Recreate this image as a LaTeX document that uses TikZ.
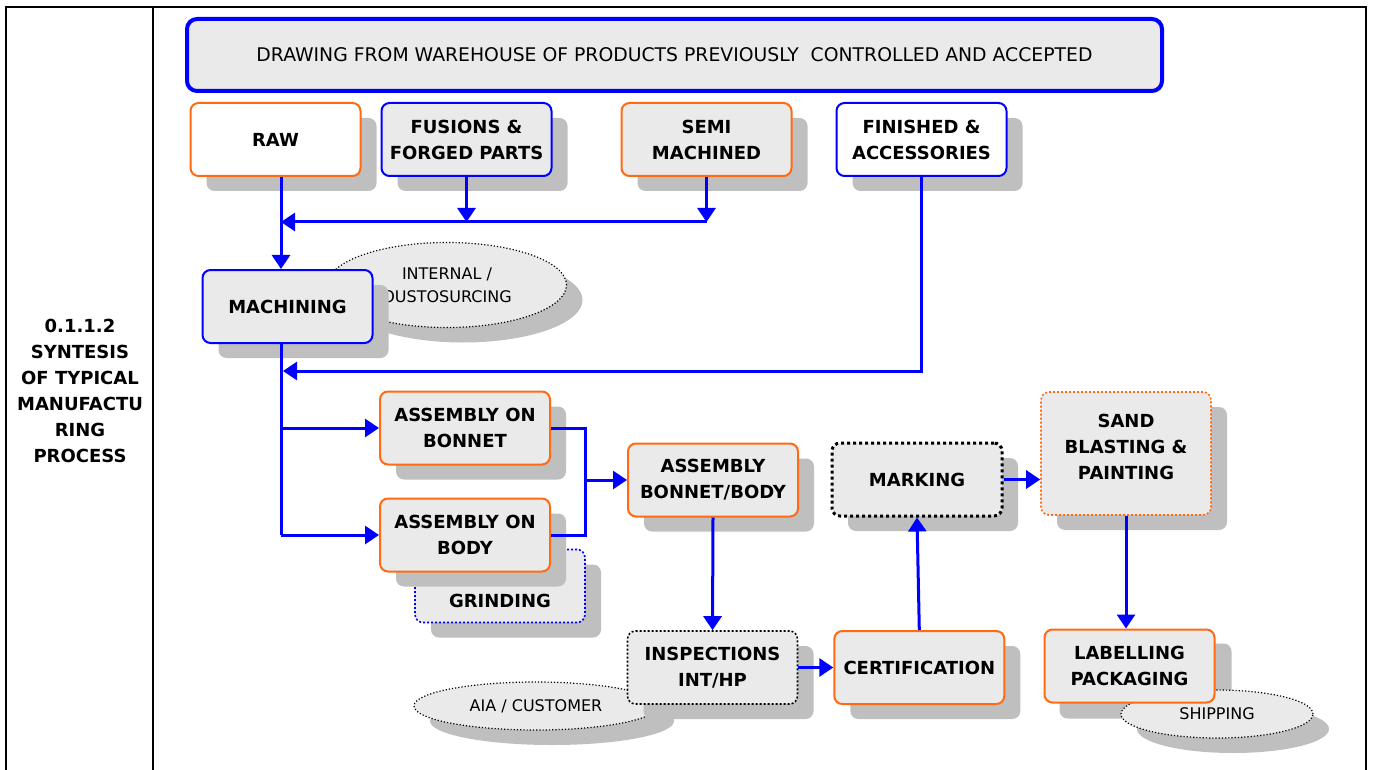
\documentclass[tikz,border=0pt]{standalone}
\usepackage{fontspec}
\setmainfont{DejaVu Sans}
\usepackage{tikz}
\usetikzlibrary{arrows.meta,positioning,shapes.geometric,shadows}
\definecolor{boxgray}{HTML}{EAEAEA}
\definecolor{shgray}{HTML}{BFBFBF}
\definecolor{orng}{HTML}{FF6A13}
\pgfdeclarelayer{shadowlayer}
\pgfsetlayers{shadowlayer,main}

\begin{document}
\begin{tikzpicture}[
    x=0.5pt, y=-0.5pt,
    shd/.style={drop shadow={shadow xshift=8pt, shadow yshift=-7.5pt,
                fill=shgray, opacity=1}},
    pbox/.style={rectangle, draw, rounded corners=4pt, line width=1pt,
                fill=boxgray, minimum width=85pt, minimum height=36.5pt,
                align=center, inner sep=2pt,
                font=\bfseries\fontsize{9}{13}\selectfont, shd},
    obox/.style={pbox, draw=orng},
    bbox/.style={pbox, draw=blue},
    note/.style={ellipse, draw, densely dotted, line width=0.6pt,
                fill=boxgray, inner sep=0pt, align=center,
                font=\fontsize{8}{11.5}\selectfont, shd},
    arr/.style={-{Triangle[length=7pt,width=9pt]}, blue, line width=1.5pt},
    link/.style={blue, line width=1.5pt}
]
\useasboundingbox (0,0) rectangle (1375,770);

% Table frame
\draw[line width=1.2pt] (6,770) |- (1366,7) -- (1366,770);
\draw[line width=1.2pt] (153,7) -- (153,770);
\node[font=\bfseries\fontsize{9}{13}\selectfont, align=center] (title) at (80,391) {
  0.1.1.2\\SYNTESIS\\OF TYPICAL\\MANUFACTU\\RING\\PROCESS
};

% Notes behind the boxes
\node[note, minimum width=119.5pt, minimum height=42.5pt] (intx) at (447,285) {INTERNAL /\\OUSTOSURCING};
\node[note, minimum width=122pt, minimum height=24pt] (aia) at (536,706) {AIA / CUSTOMER};
\node[note, minimum width=96pt, minimum height=24pt] (ship) at (1217,714) {SHIPPING};

% Warehouse
\node[rectangle, draw=blue, line width=2pt, rounded corners=5pt, fill=boxgray,
      minimum width=487.5pt, minimum height=36pt,
      font=\fontsize{9.4}{11}\selectfont] (wh) at (674.5,55) {
  DRAWING FROM WAREHOUSE OF PRODUCTS PREVIOUSLY\ \ CONTROLLED AND ACCEPTED
};

% Incoming material
\node[obox, fill=white] (raw) at (275.5,139.5) {RAW};
\node[bbox, right=9.5pt of raw] (fus) {FUSIONS \&\\FORGED PARTS};
\node[obox, right=34pt of fus] (semi) {SEMI\\MACHINED};
\node[bbox, fill=white, right=21.5pt of semi] (fin) {FINISHED \&\\ACCESSORIES};

% Process steps
\node[bbox] (mach) at (287.5,306.5) {MACHINING};
\node[pbox, draw=blue, densely dotted, line width=0.8pt] (grind) at (500,586) {\strut\\GRINDING};
\node[obox] (bonnet) at (465,428) {ASSEMBLY ON\\BONNET};
\node[obox, below=16pt of bonnet] (body) {ASSEMBLY ON\\BODY};
\node[obox] (asmb) at (713,480) {ASSEMBLY\\BONNET/BODY};
\node[pbox, draw=black, densely dotted, line width=0.8pt] (insp) at (712.5,667.5) {INSPECTIONS\\INT/HP};
\node[obox, right=17.5pt of insp] (cert) {CERTIFICATION};
\node[pbox, draw=black, line width=1.5pt, dash pattern=on 1.5pt off 1.5pt] (mark) at (917,479.5) {MARKING};
\node[obox, densely dotted, line width=0.8pt, minimum height=61.5pt] (sand) at (1126,453.5) {SAND\\BLASTING \&\\PAINTING\\[-6pt]\mbox{}};
\node[shd/.style={}, obox] (lab) at (1129.5,666) {LABELLING\\PACKAGING};

% shadow of the last box goes under the shipping note
\begin{pgfonlayer}{shadowlayer}
  \fill[shgray, rounded corners=4pt] ([shift={(16,15)}]lab.south west) rectangle ([shift={(16,15)}]lab.north east);
\end{pgfonlayer}

% Connectors
\coordinate (trunk) at (281,222);
\coordinate (ret) at (283,371);
\coordinate (brk) at (585,480);

\draw[arr] (raw.south -| trunk) -- (mach.north -| trunk);
\draw[arr] (fus.south) -- (fus.south |- trunk);
\draw[arr] (semi.south) -- (semi.south |- trunk);
\draw[arr] (semi.south |- trunk) -- (trunk);
\draw[link] (mach.south -| trunk) -- (trunk |- body.west);
\draw[arr] (fin.south) |- (ret);
\draw[arr] (trunk |- bonnet.west) -- (bonnet.west);
\draw[arr] (trunk |- body.west) -- (body.west);
\draw[link] (bonnet.east) -| (brk |- body.east) -- (body.east);
\draw[arr] (brk) -- (asmb.west);
\draw[arr] (asmb.south) -- (insp.north);
\draw[arr] (insp.east) -- (cert.west);
\draw[arr] (cert.north) -- (mark.south);
\draw[arr] (mark.east) -- (mark.east -| sand.west);
\draw[arr] (sand.south) -- (sand.south |- lab.north);
\end{tikzpicture}
\end{document}
